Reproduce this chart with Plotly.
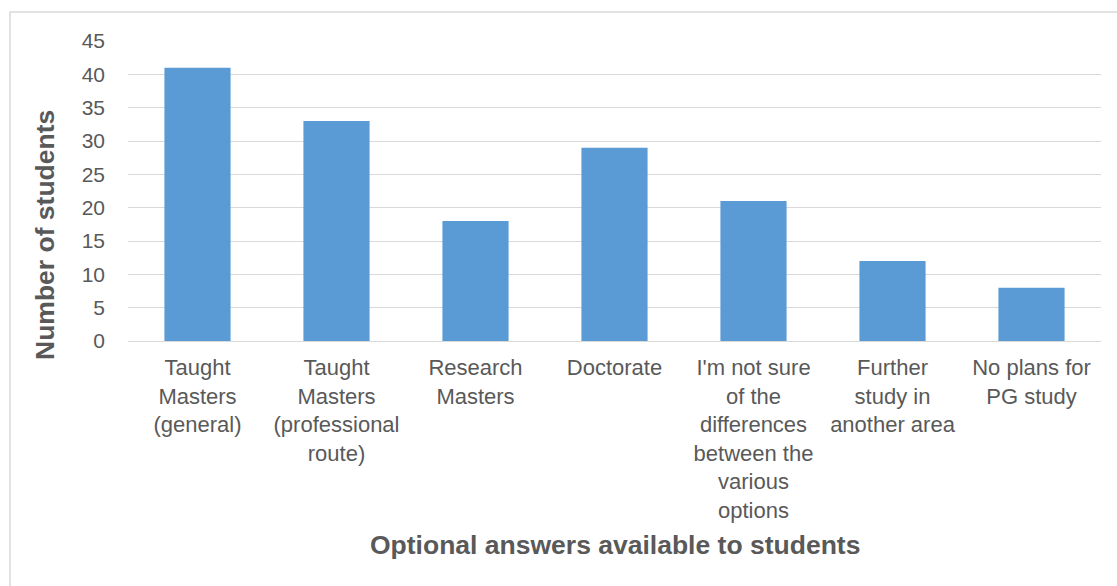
import plotly.graph_objects as go

categories = [
    "Taught<br>Masters<br>(general)",
    "Taught<br>Masters<br>(professional<br>route)",
    "Research<br>Masters",
    "Doctorate",
    "I'm not sure<br>of the<br>differences<br>between the<br>various<br>options",
    "Further<br>study in<br>another area",
    "No plans for<br>PG study",
]
students = [41, 33, 18, 29, 21, 12, 8]

y_ticks = list(range(0, 50, 5))

bar_color = "#5B9BD5"
grid_color = "#D9D9D9"
text_color = "#595959"

W, H = 1117, 586
L, R, T, B = 128, 16, 41, 245

fig = go.Figure(
    go.Bar(
        x=categories,
        y=students,
        marker=dict(color=bar_color, line=dict(width=0)),
        width=0.476,
    )
)

# outer chart border
pw, ph = W - L - R, H - T - B
fig.add_shape(
    type="rect",
    xref="paper", yref="paper",
    x0=(10 - L) / pw, x1=(W + 20 - L) / pw,
    y0=(H - B - (H + 20)) / ph, y1=(H - B - 12) / ph,
    line=dict(color=grid_color, width=1.5),
    layer="below",
)

fig.update_layout(
    width=W, height=H,
    margin=dict(l=L, r=R, t=T, b=B),
    paper_bgcolor="white",
    plot_bgcolor="white",
    showlegend=False,
    font=dict(family="Liberation Sans, Arial, sans-serif", color=text_color),
)

fig.update_xaxes(
    showgrid=False,
    showline=False,
    ticks="",
    tickfont=dict(size=22, color=text_color),
    ticklabelstandoff=11,
    tickangle=0,
)

fig.update_yaxes(
    range=[0, 45],
    tickvals=y_ticks,
    showgrid=True,
    gridcolor=grid_color,
    gridwidth=1.4,
    zeroline=True,
    zerolinecolor=grid_color,
    zerolinewidth=1.4,
    showline=False,
    ticks="",
    tickfont=dict(size=21, color=text_color),
    ticklabelstandoff=22,
)

# axis titles
fig.add_annotation(
    text="<b>Number of students</b>",
    xref="paper", yref="paper",
    x=(45 - L) / pw, y=(H - B - 235) / ph,
    textangle=-90, showarrow=False,
    font=dict(size=26.5, color=text_color),
    xanchor="center", yanchor="middle",
)
fig.add_annotation(
    text="<b>Optional answers available to students</b>",
    xref="paper", yref="paper",
    x=(615 - L) / pw, y=(H - B - 545) / ph,
    showarrow=False,
    font=dict(size=26.5, color=text_color),
    xanchor="center", yanchor="middle",
)

fig.write_html("out.html")
